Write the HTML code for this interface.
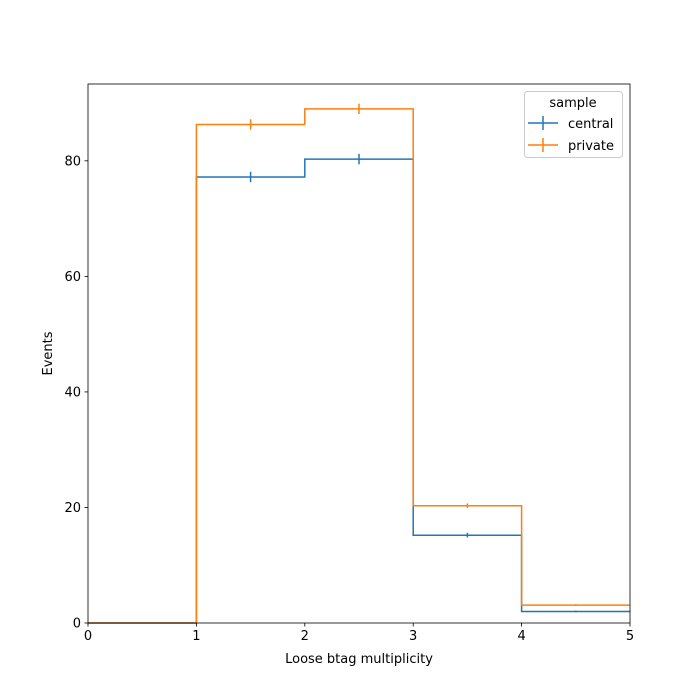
<!DOCTYPE html>
<html><head><meta charset="utf-8"><style>
body{margin:0;background:#fff;}
svg{display:block;font-family:"DejaVu Sans","Liberation Sans",sans-serif;}
</style></head><body>
<svg id="chart" width="700" height="700"></svg>
<script>
const binEdges = [0, 1, 2, 3, 4, 5];
const centralValues = [0, 77.2, 80.3, 15.2, 2.0];
const centralErrors = [0, 0.9, 0.9, 0.4, 0.15];
const privateValues = [0, 86.3, 89.0, 20.3, 3.1];
const privateErrors = [0, 0.9, 0.9, 0.4, 0.15];
const xTicks = [0, 1, 2, 3, 4, 5];
const yTicks = [0, 20, 40, 60, 80];

const L = 88, R = 630, T = 84, B = 623, yMax = 93.3;
const sx = v => L + (v - 0) / 5 * (R - L);
const sy = v => B - v / yMax * (B - T);
const NS = "http://www.w3.org/2000/svg";
const svg = document.getElementById("chart");
function mk(tag, attrs, parent) {
  const e = document.createElementNS(NS, tag);
  for (const k in attrs) e.setAttribute(k, attrs[k]);
  (parent || svg).appendChild(e);
  return e;
}
// series
function drawSeries(vals, errs, color, name) {
  const g = mk("g", {});
  
  
  let d = "M" + sx(binEdges[0]) + "," + sy(vals[0]);
  for (let i = 0; i < vals.length; i++) {
    d += " L" + sx(binEdges[i]) + "," + sy(vals[i]) + " L" + sx(binEdges[i + 1]) + "," + sy(vals[i]);
  }
  const p = mk("path", {d: d, fill: "none", stroke: color, "stroke-width": 1.5}, g);
  
  
  for (let i = 0; i < vals.length; i++) {
    if (errs[i] <= 0) continue;
    const cx = sx((binEdges[i] + binEdges[i + 1]) / 2);
    const e = mk("line", {x1: cx, x2: cx, y1: sy(vals[i] - errs[i]), y2: sy(vals[i] + errs[i]), stroke: color, "stroke-width": 1.5}, g);
    
    
  }
}
drawSeries(centralValues, centralErrors, "#1f77b4", "central");
drawSeries(privateValues, privateErrors, "#ff7f0e", "private");
// axes frame
const fr = mk("rect", {x: L, y: T, width: R - L, height: B - T, fill: "none", stroke: "#000", "stroke-width": 0.8});


xTicks.forEach(t => {
  const x = sx(t);
  const l = mk("line", {x1: x, x2: x, y1: B, y2: B + 3.5, stroke: "#000", "stroke-width": 0.8});
  
  
  const tx = mk("text", {x: x, y: B + 17, "text-anchor": "middle", "font-size": 13});
  tx.textContent = t;
  
  
});
yTicks.forEach(t => {
  const y = sy(t);
  const l = mk("line", {x1: L - 3.5, x2: L, y1: y, y2: y, stroke: "#000", "stroke-width": 0.8});
  
  
  const tx = mk("text", {x: L - 7, y: y + 4.5, "text-anchor": "end", "font-size": 13});
  tx.textContent = t;
  
  
});
const xt = mk("text", {x: (L + R) / 2, y: 663, "text-anchor": "middle", "font-size": 13});
xt.textContent = "Loose btag multiplicity";


const yt = mk("text", {x: 0, y: 0, "text-anchor": "middle", "font-size": 13, transform: "translate(52," + ((T + B) / 2) + ") rotate(-90)"});
yt.textContent = "Events";


// legend
const lg = mk("g", {});


mk("rect", {x: 524.5, y: 91.5, width: 98, height: 66, rx: 3, fill: "#fff", stroke: "#ccc", "stroke-width": 1}, lg);
const lt = mk("text", {x: 573, y: 107, "text-anchor": "middle", "font-size": 13}, lg);
lt.textContent = "sample";


[["central", "#1f77b4", 123], ["private", "#ff7f0e", 145]].forEach(([n, c, y]) => {
  const g = mk("g", {}, lg);
  
  
  mk("line", {x1: 528, x2: 558, y1: y, y2: y, stroke: c, "stroke-width": 1.5}, g);
  mk("line", {x1: 543, x2: 543, y1: y - 7, y2: y + 7, stroke: c, "stroke-width": 1.5}, g);
  const t = mk("text", {x: 568, y: y + 5, "font-size": 13}, g);
  t.textContent = n;
});
</script>
</body></html>
